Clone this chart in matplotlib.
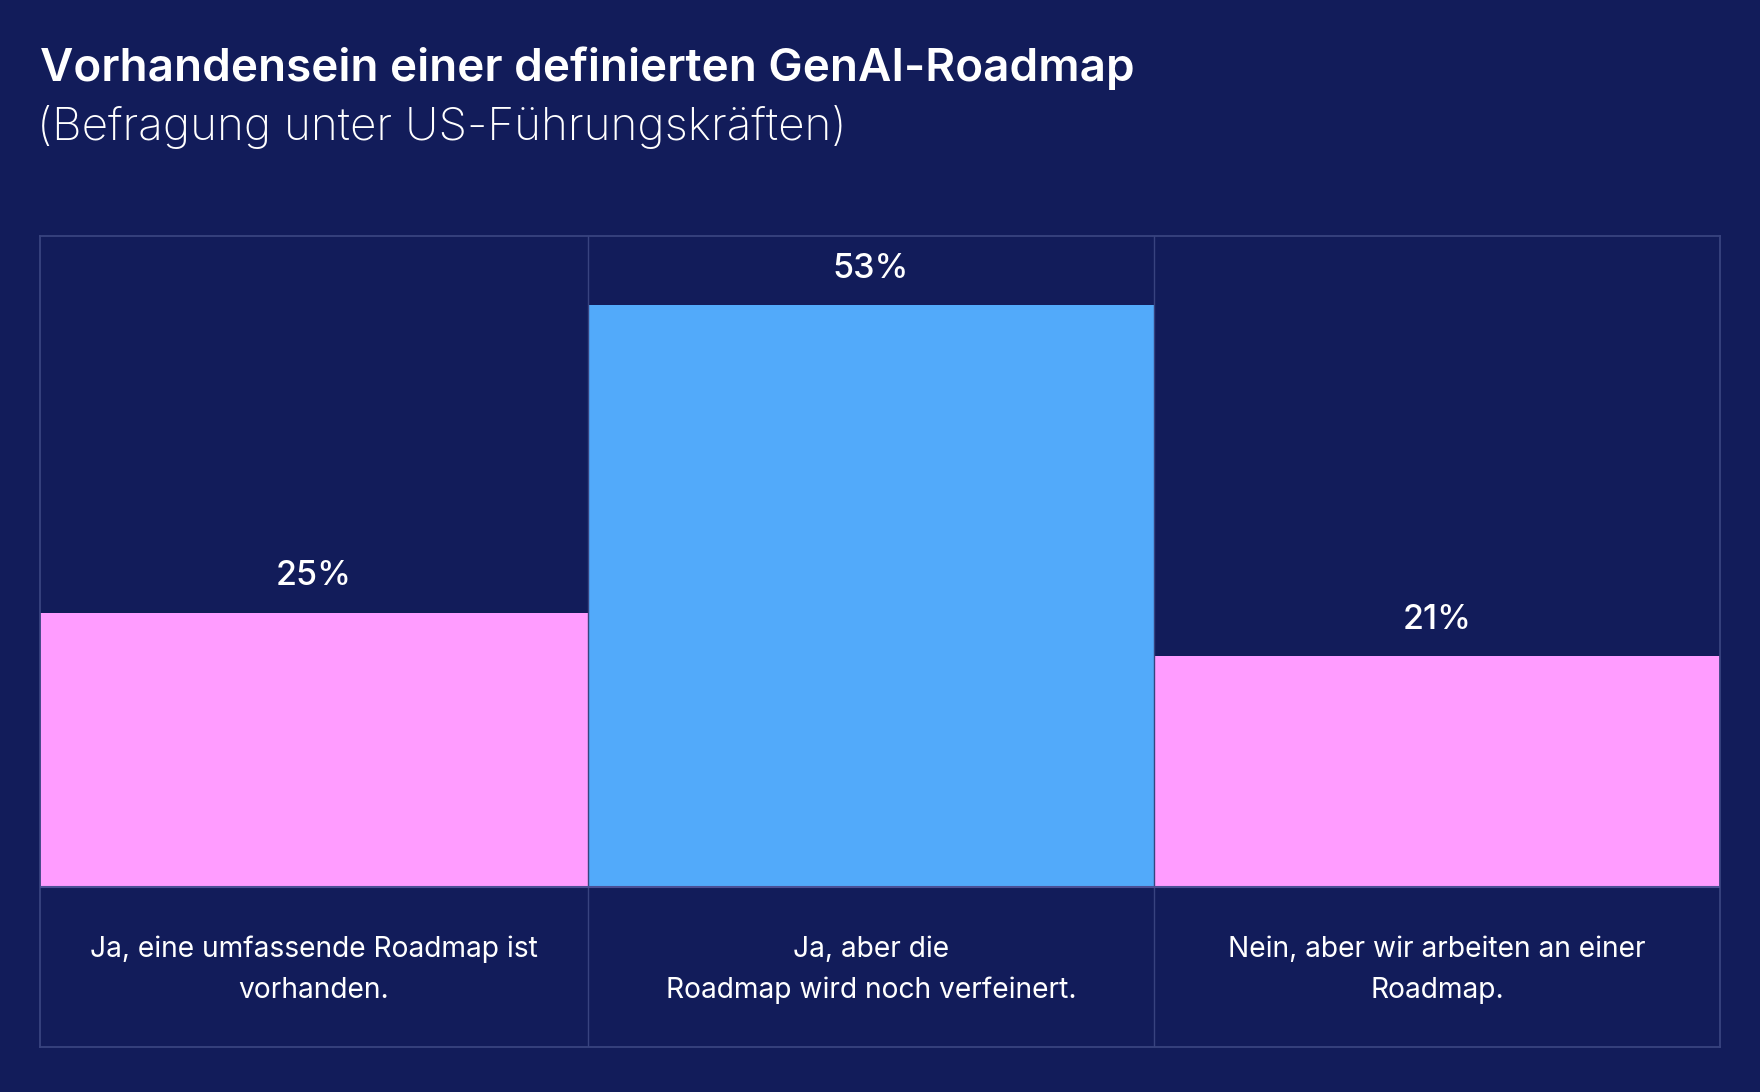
import matplotlib
matplotlib.use("Agg")
import matplotlib.pyplot as plt

# ---- data ----
categories = [
    "Ja, eine umfassende Roadmap ist\nvorhanden.",
    "Ja, aber die\nRoadmap wird noch verfeinert.",
    "Nein, aber wir arbeiten an einer\nRoadmap.",
]
values = [25, 53, 21]
value_labels = ["25%", "53%", "21%"]
bar_colors = ["#FF9CFF", "#52AAFA", "#FF9CFF"]
title = "Vorhandensein einer definierten GenAI-Roadmap"
subtitle = "(Befragung unter US-Führungskräften)"

# ---- style ----
BG = "#121C5A"
GRID = "#38437F"
FONT = "Inter"
W, H = 1760, 1092

fig = plt.figure(figsize=(W / 100, H / 100), dpi=100)
fig.patch.set_facecolor(BG)

# layout (pixels)
box_left, box_right, box_top, box_bottom = 40, 1720, 236, 1047
baseline_px = 887
col_edges = [0, 548, 1114, 1680]   # column boundaries relative to box_left
px_per_unit = 10.98

ax = fig.add_axes([box_left / W, (H - box_bottom) / H,
                   (box_right - box_left) / W, (box_bottom - box_top) / H])
ax.set_facecolor(BG)
ax.set_xlim(col_edges[0], col_edges[-1])
ax.set_ylim(-(box_bottom - baseline_px) / px_per_unit, (baseline_px - box_top) / px_per_unit)

lefts = col_edges[:-1]
widths = [col_edges[i + 1] - col_edges[i] for i in range(len(values))]
ax.bar(lefts, values, width=widths, align="edge", color=bar_colors, zorder=2, linewidth=0)

for i, (v, lab) in enumerate(zip(values, value_labels)):
    cx = lefts[i] + widths[i] / 2
    ax.annotate(lab, xy=(cx, v), xytext=(0, 26), textcoords="offset points",
                ha="center", va="center", color="white", fontsize=24.5,
                fontfamily=FONT, fontweight="medium")
    line1, line2 = categories[i].split("\n")
    ax.text(cx, -(949 - baseline_px) / px_per_unit, line1,
            ha="center", va="center", color="white", fontsize=20.3, fontfamily=FONT)
    ax.text(cx, -(990 - baseline_px) / px_per_unit, line2,
            ha="center", va="center", color="white", fontsize=20.3, fontfamily=FONT)

# grid lines
for x in col_edges[1:-1]:
    ax.axvline(x, color=GRID, lw=1.0, zorder=3)
ax.axhline(0, color="#4A4F95", lw=1.5, zorder=3)
for s in ax.spines.values():
    s.set_color(GRID)
    s.set_linewidth(1.3)
ax.set_xticks([])
ax.set_yticks([])

fig.text(40 / W, 1 - 68 / H, title, ha="left", va="center", color="white",
         fontsize=33, fontfamily=FONT, fontweight="semibold")
fig.text(37 / W, 1 - 127 / H, subtitle, ha="left", va="center", color="white",
         fontsize=33, fontfamily=FONT, fontweight="light")

fig.savefig("out.png", dpi=100, facecolor=BG)
